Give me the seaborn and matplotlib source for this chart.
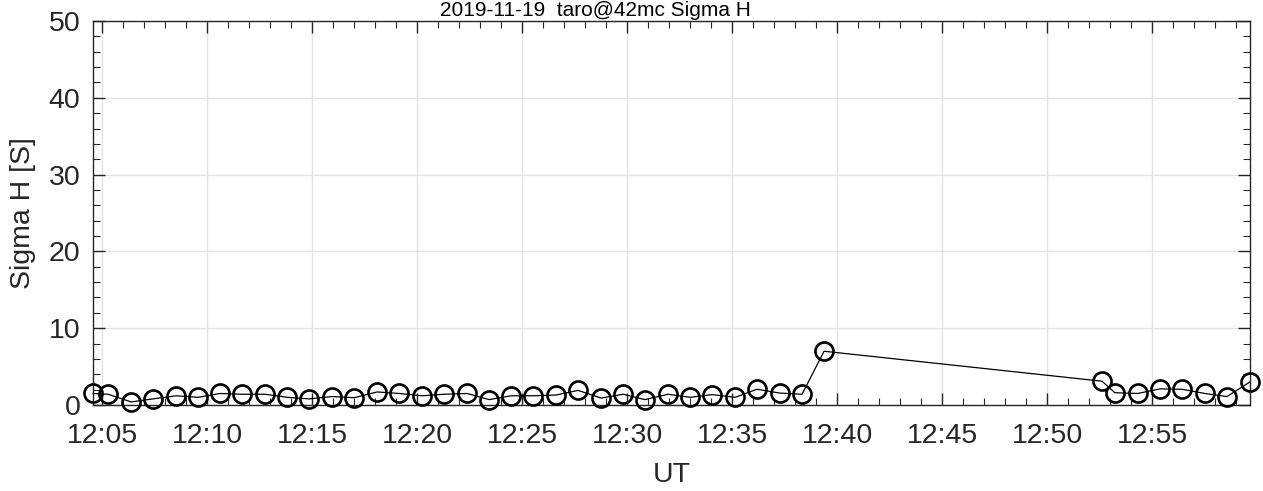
import pandas as pd
import numpy as np
import matplotlib
matplotlib.use("Agg")
import matplotlib.pyplot as plt
import matplotlib.dates as mdates
from matplotlib.ticker import MultipleLocator
import seaborn as sns

sns.set_style("ticks")
plt.rcParams['font.family'] = ['Liberation Sans', 'DejaVu Sans']

# Sample times (UT) and Hall conductance
times = [
    "12:04:33", "12:05:16", "12:06:22", "12:07:25", "12:08:31", "12:09:33",
    "12:10:36", "12:11:39", "12:12:45", "12:13:48", "12:14:51", "12:15:56",
    "12:16:59", "12:18:05", "12:19:08", "12:20:13", "12:21:16", "12:22:22",
    "12:23:25", "12:24:28", "12:25:31", "12:26:36", "12:27:39", "12:28:45",
    "12:29:48", "12:30:50", "12:31:56", "12:32:59", "12:34:02", "12:35:08",
    "12:36:10", "12:37:16", "12:38:19", "12:39:22",
    "12:52:36", "12:53:13", "12:54:18", "12:55:22", "12:56:25", "12:57:30",
    "12:58:33", "12:59:39",
]
sigma_h = [
    1.5, 1.4, 0.4, 0.8, 1.2, 1.0,
    1.5, 1.4, 1.4, 1.0, 0.8, 1.1,
    0.95, 1.7, 1.5, 1.2, 1.4, 1.5,
    0.7, 1.2, 1.2, 1.3, 1.9, 0.9,
    1.4, 0.7, 1.4, 1.0, 1.35, 1.0,
    2.05, 1.55, 1.4, 7.0,
    3.1, 1.6, 1.5, 2.1, 2.05, 1.5,
    1.1, 3.0,
]

df = pd.DataFrame({
    "UT": pd.to_datetime(["2019-11-19 " + t for t in times]),
    "sigma_h": sigma_h,
})

fig = plt.figure(figsize=(12.63, 4.91), dpi=100)
ax = fig.add_axes([93 / 1263, 86 / 491, 1157 / 1263, 384 / 491])

sns.lineplot(data=df, x="UT", y="sigma_h", ax=ax, color="black",
             linewidth=0.9, marker="o", markersize=13,
             markerfacecolor="none", markeredgecolor="black",
             markeredgewidth=1.9)
for ln in ax.lines:
    ln.set_clip_on(False)
    ln.set_zorder(5)

ax.set_xlim(df["UT"].iloc[0], df["UT"].iloc[-1])
ax.set_ylim(0, 50)

ax.xaxis.set_major_locator(mdates.MinuteLocator(byminute=range(0, 60, 5)))
ax.xaxis.set_minor_locator(mdates.MinuteLocator())
ax.xaxis.set_major_formatter(mdates.DateFormatter("%H:%M"))
ax.yaxis.set_major_locator(MultipleLocator(10))
ax.yaxis.set_minor_locator(MultipleLocator(2))

ax.grid(True, which="major", color="#e3e3e3", linewidth=1.0)
ax.set_axisbelow(True)

dark = "#262626"
for s in ax.spines.values():
    s.set_visible(True)
    s.set_color(dark)
    s.set_linewidth(1.0)

ax.tick_params(which="both", direction="in", top=True, right=True,
               colors=dark, labelcolor=dark, labelsize=20.5)
ax.tick_params(which="major", length=8.5, width=1.0)
ax.tick_params(which="minor", length=5, width=0.8)
ax.tick_params(axis="x", which="major", pad=13)
ax.tick_params(axis="y", which="major", pad=9)

ax.set_xlabel("UT", fontsize=20.5, color=dark, labelpad=9)
ax.set_ylabel("Sigma H [S]", fontsize=20.5, color=dark, labelpad=9)

# title sits right at the top edge, as in the source figure
fig.text(595 / 1263, 1 - 1 / 491, "2019-11-19  taro@42mc Sigma H",
         ha="center", va="top", fontsize=15, color="black")

fig.savefig("out.png", dpi=100)
